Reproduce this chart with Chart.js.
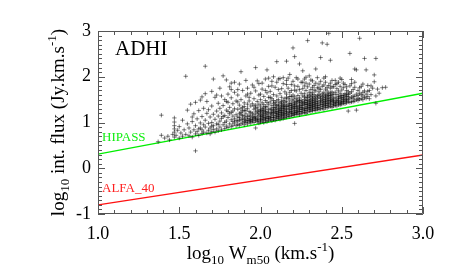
<!DOCTYPE html>
<html>
<head>
<meta charset="utf-8">
<script src="https://cdn.jsdelivr.net/npm/chart.js@4"></script>
<style>
  html, body { margin: 0; padding: 0; background: #fff; }
  #wrap { width: 452px; height: 277px; }
</style>
</head>
<body>
<div id="wrap"><canvas id="adhi-chart" width="452" height="277"></canvas></div>
<script>
// axis ticks
const xTicks = [1.0, 1.5, 2.0, 2.5, 3.0];
const yTicks = [-1, 0, 1, 2, 3];

// detection limit lines (log W50 -> log flux)
const limitW = [1.0, 3.0];
const hipassFlux = [0.31, 1.64];
const alfaFlux = [-0.80, 0.29];

// ADHI sources: [log W50, log int. flux]
const adhiPoints = [
  [1.37,0.58],[1.39,0.72],[1.39,1.16],[1.41,0.66],[1.43,0.70],[1.44,0.62],
  [1.46,0.74],[1.47,0.68],[1.47,0.79],[1.47,0.86],[1.47,0.93],[1.47,1.01],[1.47,1.10],[1.48,0.72],[1.49,0.83],[1.50,0.66],[1.50,0.91],[1.51,0.77],[1.52,1.05],[1.52,0.70],[1.53,0.84],[1.54,2.01],[1.54,0.74],[1.55,0.97],
  [1.55,1.27],[1.56,0.71],[1.56,0.88],[1.57,1.40],[1.57,0.79],[1.58,1.02],[1.58,0.68],[1.59,1.19],[1.59,0.84],[1.60,0.38],[1.60,0.75],[1.60,0.93],[1.60,1.44],[1.61,1.08],[1.61,0.80],[1.62,0.72],[1.62,1.26],[1.63,0.88],[1.63,0.99],[1.63,1.49],[1.64,0.76],[1.64,1.13],[1.64,0.84],[1.65,0.95],[1.65,1.31],[1.65,0.79],[1.62,0.86],[1.58,1.12],
  [1.66,2.23],[1.66,0.90],[1.66,1.05],[1.67,0.77],[1.67,1.20],[1.67,1.46],[1.68,0.83],[1.68,0.98],[1.69,0.75],[1.69,1.12],[1.69,0.88],[1.70,1.36],[1.70,0.80],[1.70,1.00],[1.71,1.95],[1.71,0.93],[1.71,1.18],[1.72,0.79],[1.72,1.07],[1.72,1.55],[1.73,0.86],[1.73,1.25],[1.73,0.97],[1.74,0.82],[1.74,1.14],[1.74,1.42],[1.75,0.90],[1.75,1.03],[1.75,1.31],[1.68,1.28],[1.71,0.85],[1.73,1.60],[1.66,1.63],[1.70,0.92],[1.74,0.96],
  [1.76,0.84],[1.76,1.09],[1.76,1.21],[1.77,2.02],[1.77,0.95],[1.77,1.37],[1.78,0.87],[1.78,1.15],[1.78,1.50],[1.79,1.93],[1.79,0.92],[1.79,1.03],[1.79,1.27],[1.80,0.89],[1.80,1.11],[1.80,1.62],[1.80,1.44],[1.81,0.97],[1.81,1.19],[1.81,1.33],[1.82,0.91],[1.82,1.06],[1.82,1.54],[1.82,1.72],[1.83,0.94],[1.83,1.14],[1.83,1.25],[1.83,1.41],[1.84,0.99],[1.84,1.08],[1.84,1.66],[1.84,1.30],[1.85,0.93],[1.85,1.17],[1.85,1.47],[1.85,1.04],[1.76,1.58],[1.78,1.00],[1.81,1.78],[1.83,1.02],[1.80,1.24],[1.77,1.13],[1.82,1.22],[1.84,1.88],[1.79,1.46],
  [1.86,0.96],[1.86,1.12],[1.86,1.29],[1.86,1.60],[1.87,0.94],[1.87,1.05],[1.87,1.38],[1.87,1.84],[1.88,0.97],[1.88,1.17],[1.88,1.22],[1.88,2.11],[1.88,1.50],[1.89,0.99],[1.89,1.08],[1.89,1.33],[1.89,1.70],[1.90,0.95],[1.90,1.02],[1.90,1.14],[1.90,1.26],[1.90,1.43],[1.91,1.00],[1.91,1.10],[1.91,1.19],[1.91,1.58],[1.91,1.92],[1.92,0.97],[1.92,1.05],[1.92,1.31],[1.92,1.75],[1.93,1.01],[1.93,1.09],[1.93,1.16],[1.93,1.24],[1.93,1.47],[1.94,0.99],[1.94,1.07],[1.94,1.36],[1.94,1.64],[1.95,1.03],[1.95,1.12],[1.95,1.20],[1.95,1.41],[1.95,1.82],[1.86,1.03],[1.87,1.20],[1.88,1.06],[1.89,1.15],[1.90,1.35],[1.91,1.04],[1.92,1.13],[1.93,1.55],[1.94,1.22],[1.95,1.06],[1.86,1.45],[1.89,1.25],[1.92,1.40],[1.94,1.14],[1.90,1.07],[1.88,1.30],[1.91,1.27],[1.93,1.05],[1.87,1.11],[1.94,1.03],
  [1.96,1.00],[1.96,1.08],[1.96,1.17],[1.96,1.29],[1.96,1.52],[1.97,0.88],[1.97,1.04],[1.97,1.13],[1.97,1.23],[1.97,1.38],[1.97,2.20],[1.97,1.69],[1.98,1.02],[1.98,1.10],[1.98,1.19],[1.98,1.33],[1.98,1.46],[1.99,0.99],[1.99,1.06],[1.99,1.15],[1.99,1.27],[1.99,1.60],[1.99,1.85],[2.00,1.01],[2.00,1.09],[2.00,1.18],[2.00,1.24],[2.00,1.36],[2.00,1.50],[2.01,1.03],[2.01,1.12],[2.01,1.21],[2.01,1.31],[2.01,1.43],[2.01,1.73],[2.02,1.00],[2.02,1.07],[2.02,1.16],[2.02,1.26],[2.02,1.39],[2.02,1.57],[2.03,1.04],[2.03,1.11],[2.03,1.19],[2.03,1.29],[2.03,1.48],[2.03,1.95],[2.04,1.02],[2.04,1.09],[2.04,1.14],[2.04,1.23],[2.04,1.34],[2.04,1.65],[2.04,2.15],[2.05,1.05],[2.05,1.13],[2.05,1.22],[2.05,1.40],[2.05,1.79],[1.96,1.11],[1.97,1.31],[1.98,1.06],[1.99,1.21],[2.00,1.05],[2.00,1.13],[2.01,1.07],[2.01,1.26],[2.02,1.12],[2.02,1.21],[2.03,1.08],[2.03,1.35],[2.04,1.18],[2.05,1.09],[2.05,1.28],[1.98,1.25],[1.99,1.40],[2.00,1.28],[2.02,1.32],[2.04,1.44],[1.96,1.36],[2.01,1.16],[2.03,1.24],[1.97,1.08],[2.00,1.62],[2.05,1.55],
  [2.06,1.06],[2.06,1.14],[2.06,1.20],[2.06,1.30],[2.06,1.45],[2.06,1.68],[2.07,1.04],[2.07,1.11],[2.07,1.18],[2.07,1.25],[2.07,1.37],[2.07,1.52],[2.07,1.90],[2.08,1.07],[2.08,1.15],[2.08,1.22],[2.08,1.33],[2.08,1.42],[2.08,1.61],[2.09,1.05],[2.09,1.12],[2.09,1.19],[2.09,1.28],[2.09,1.39],[2.09,1.77],[2.10,1.08],[2.10,1.16],[2.10,1.24],[2.10,1.31],[2.10,1.47],[2.10,2.33],[2.10,1.58],[2.11,1.09],[2.11,1.13],[2.11,1.21],[2.11,1.29],[2.11,1.36],[2.11,1.50],[2.11,1.72],[2.12,1.07],[2.12,1.17],[2.12,1.26],[2.12,1.34],[2.12,1.44],[2.12,1.63],[2.12,1.96],[2.13,1.10],[2.13,1.15],[2.13,1.23],[2.13,1.32],[2.13,1.41],[2.13,1.55],[2.14,1.09],[2.14,1.18],[2.14,1.27],[2.14,1.35],[2.14,1.48],[2.14,1.85],[2.15,1.11],[2.15,1.20],[2.15,1.30],[2.15,1.38],[2.15,1.52],[2.15,1.67],[2.06,1.10],[2.07,1.29],[2.08,1.11],[2.08,1.27],[2.09,1.23],[2.09,1.33],[2.10,1.12],[2.10,1.37],[2.11,1.17],[2.11,1.25],[2.12,1.12],[2.12,1.30],[2.13,1.19],[2.13,1.27],[2.14,1.14],[2.14,1.22],[2.14,1.40],[2.15,1.16],[2.15,1.25],[2.15,1.34],[2.06,1.55],[2.08,1.48],[2.10,1.20],[2.12,1.22],[2.13,1.37],[2.14,1.31],[2.07,1.21],[2.09,1.44],[2.11,1.40],[2.13,1.46],[2.15,1.44],
  [2.16,1.12],[2.16,1.19],[2.16,1.28],[2.16,1.36],[2.16,1.46],[2.16,1.62],[2.16,2.34],[2.16,1.92],[2.17,1.14],[2.17,1.22],[2.17,1.31],[2.17,1.40],[2.17,1.53],[2.17,1.75],[2.18,1.13],[2.18,1.21],[2.18,1.29],[2.18,1.37],[2.18,1.49],[2.18,1.66],[2.18,2.05],[2.19,1.16],[2.19,1.24],[2.19,1.33],[2.19,1.42],[2.19,1.57],[2.19,1.83],[2.20,1.15],[2.20,1.23],[2.20,1.30],[2.20,1.39],[2.20,1.47],[2.20,1.60],[2.20,2.63],[2.21,0.98],[2.21,1.17],[2.21,1.26],[2.21,1.35],[2.21,1.44],[2.21,1.56],[2.21,2.44],[2.21,1.71],[2.22,1.18],[2.22,1.25],[2.22,1.32],[2.22,1.41],[2.22,1.52],[2.22,1.69],[2.22,1.98],[2.23,1.19],[2.23,1.27],[2.23,1.36],[2.23,1.45],[2.23,1.59],[2.23,1.79],[2.24,1.17],[2.24,1.24],[2.24,1.34],[2.24,1.43],[2.24,1.54],[2.24,2.28],[2.25,1.20],[2.25,1.29],[2.25,1.38],[2.25,1.49],[2.25,1.64],[2.25,1.88],[2.16,1.24],[2.17,1.17],[2.17,1.35],[2.18,1.25],[2.18,1.42],[2.19,1.20],[2.19,1.29],[2.20,1.19],[2.20,1.34],[2.21,1.21],[2.21,1.30],[2.21,1.40],[2.22,1.22],[2.22,1.36],[2.23,1.23],[2.23,1.31],[2.23,1.49],[2.24,1.29],[2.24,1.38],[2.25,1.24],[2.25,1.33],[2.25,1.44],[2.16,1.55],[2.18,1.57],[2.20,1.51],[2.22,1.46],[2.24,1.48],[2.19,1.37],
  [2.26,1.21],[2.26,1.28],[2.26,1.37],[2.26,1.46],[2.26,1.58],[2.26,1.74],[2.26,2.13],[2.27,1.22],[2.27,1.31],[2.27,1.40],[2.27,1.50],[2.27,1.63],[2.27,1.95],[2.28,1.20],[2.28,1.26],[2.28,1.34],[2.28,1.43],[2.28,1.54],[2.28,1.70],[2.28,1.86],[2.29,2.79],[2.29,1.23],[2.29,1.30],[2.29,1.39],[2.29,1.48],[2.29,1.60],[2.29,1.78],[2.30,1.25],[2.30,1.33],[2.30,1.41],[2.30,1.51],[2.30,1.66],[2.30,2.02],[2.31,1.24],[2.31,1.29],[2.31,1.37],[2.31,1.45],[2.31,1.56],[2.31,1.72],[2.32,1.26],[2.32,1.35],[2.32,1.44],[2.32,1.53],[2.32,1.65],[2.32,1.91],[2.33,1.27],[2.33,1.32],[2.33,1.40],[2.33,1.49],[2.33,1.61],[2.33,1.81],[2.34,1.26],[2.34,1.36],[2.34,1.46],[2.34,1.57],[2.34,1.69],[2.34,2.17],[2.35,1.29],[2.35,1.38],[2.35,1.47],[2.35,1.59],[2.35,1.76],[2.26,1.32],[2.27,1.26],[2.27,1.44],[2.28,1.30],[2.28,1.48],[2.29,1.34],[2.29,1.43],[2.30,1.29],[2.30,1.37],[2.30,1.46],[2.31,1.33],[2.31,1.41],[2.31,1.50],[2.32,1.30],[2.32,1.39],[2.32,1.48],[2.33,1.36],[2.33,1.44],[2.33,1.54],[2.34,1.31],[2.34,1.41],[2.34,1.51],[2.35,1.33],[2.35,1.42],[2.35,1.53],[2.26,1.41],[2.28,1.39],[2.29,1.55],[2.31,1.62],[2.33,1.71],[2.27,1.56],[2.30,1.58],[2.32,1.58],
  [2.36,1.28],[2.36,1.37],[2.36,1.45],[2.36,1.55],[2.36,1.67],[2.36,1.84],[2.37,1.30],[2.37,1.39],[2.37,1.48],[2.37,1.58],[2.37,1.72],[2.37,2.42],[2.38,1.31],[2.38,1.40],[2.38,1.51],[2.38,1.63],[2.38,1.79],[2.38,2.74],[2.39,1.29],[2.39,1.36],[2.39,1.44],[2.39,1.54],[2.39,1.66],[2.39,1.97],[2.40,1.33],[2.40,1.42],[2.40,1.50],[2.40,1.60],[2.40,1.73],[2.40,1.88],[2.41,1.32],[2.41,1.38],[2.41,1.47],[2.41,1.57],[2.41,1.69],[2.41,2.71],[2.42,1.34],[2.42,1.43],[2.42,1.53],[2.42,1.64],[2.42,1.81],[2.42,2.95],[2.43,1.35],[2.43,1.41],[2.43,1.49],[2.43,1.59],[2.43,1.75],[2.43,2.36],[2.44,1.33],[2.44,1.46],[2.44,1.56],[2.44,1.67],[2.44,1.92],[2.45,1.36],[2.45,1.44],[2.45,1.52],[2.45,1.62],[2.45,1.78],[2.36,1.33],[2.37,1.43],[2.38,1.35],[2.38,1.46],[2.39,1.40],[2.39,1.49],[2.40,1.37],[2.40,1.46],[2.41,1.42],[2.41,1.52],[2.42,1.38],[2.42,1.48],[2.43,1.45],[2.43,1.54],[2.44,1.39],[2.44,1.50],[2.45,1.40],[2.45,1.48],[2.36,1.61],[2.38,1.57],[2.40,1.55],[2.42,1.59],[2.44,1.61],[2.37,1.52],[2.41,1.62],[2.39,1.60],[2.43,1.65],
  [2.46,1.37],[2.46,1.45],[2.46,1.55],[2.46,1.66],[2.46,1.83],[2.47,1.36],[2.47,1.43],[2.47,1.51],[2.47,1.61],[2.47,1.74],[2.48,1.39],[2.48,1.48],[2.48,1.57],[2.48,1.69],[2.48,1.88],[2.49,1.38],[2.49,1.46],[2.49,1.53],[2.49,1.64],[2.49,1.79],[2.50,1.40],[2.50,1.49],[2.50,1.59],[2.50,1.71],[2.50,1.94],[2.51,1.42],[2.51,1.50],[2.51,1.60],[2.51,1.76],[2.52,1.41],[2.52,1.52],[2.52,1.63],[2.52,1.83],[2.53,1.43],[2.53,1.51],[2.53,1.62],[2.53,1.70],[2.54,1.25],[2.54,1.45],[2.54,1.56],[2.54,1.67],[2.55,2.51],[2.55,1.44],[2.55,1.53],[2.55,1.64],[2.55,1.80],[2.46,1.41],[2.47,1.47],[2.48,1.43],[2.48,1.53],[2.49,1.42],[2.49,1.58],[2.50,1.44],[2.50,1.54],[2.51,1.46],[2.51,1.55],[2.52,1.47],[2.52,1.58],[2.53,1.47],[2.53,1.57],[2.54,1.50],[2.54,1.61],
  [2.56,1.45],[2.56,1.55],[2.56,1.67],[2.56,1.85],[2.57,1.46],[2.57,1.58],[2.57,1.72],[2.58,1.47],[2.58,1.57],[2.58,2.17],[2.58,1.77],[2.59,1.27],[2.59,1.50],[2.59,1.62],[2.59,2.15],[2.60,1.48],[2.60,1.59],[2.60,1.70],[2.61,2.84],[2.61,1.51],[2.61,1.64],[2.62,1.52],[2.62,1.61],[2.62,1.79],[2.63,1.50],[2.63,1.66],[2.64,2.40],[2.64,1.55],[2.64,1.69],[2.65,2.15],[2.65,1.53],[2.65,1.62],[2.57,1.52],[2.60,1.53],[2.63,1.58],
  [2.66,1.57],[2.67,1.70],[2.67,1.52],[2.68,1.61],[2.69,1.75],[2.70,2.04],[2.70,1.89],[2.71,2.40],[2.71,1.42],[2.71,1.58],[2.72,1.73],[2.73,1.64],[2.75,1.76],[2.77,1.77],[2.66,1.81],
  [1.92,1.62],[1.96,1.77],[1.98,1.91],[2.01,1.86],[2.03,1.70],[2.05,1.97],[2.07,1.80],[2.08,2.00],[2.10,1.88],[2.11,1.95],[2.13,1.74],[2.14,1.98],[2.16,1.83],[2.17,1.97],[2.19,1.70],[2.20,1.90],[2.21,1.80],[2.23,1.95],[2.24,1.72],[2.26,1.88],[2.27,1.80],[2.28,1.99],[2.30,1.84],[2.31,1.93],[2.32,1.77],[2.34,1.86],[2.35,1.98],[2.36,1.75],[2.37,1.90],[2.39,1.82],[2.40,2.00],[2.41,1.77],[2.43,1.86],[2.44,1.78],[2.46,1.92],[2.47,1.85],[2.49,1.97],[2.51,1.86],[2.53,1.78],[2.56,1.94],[2.58,1.88],[2.61,1.76],[2.63,1.84],[2.66,1.68],[2.68,1.80],[1.86,1.72],[1.82,1.86],[1.75,1.75],[1.70,1.68],[1.64,1.56]
];

const serif = "'Liberation Serif', 'Times New Roman', serif";

// text with sub / superscripts, (x, y) = centre of the baseline
function drawRich(ctx, parts, x, y, angle) {
  ctx.save();
  ctx.translate(x, y);
  ctx.rotate(angle);
  ctx.textBaseline = "alphabetic";
  ctx.textAlign = "left";
  let total = 0;
  parts.forEach((p) => {
    ctx.font = p[1] + "px " + serif;
    p.w = ctx.measureText(p[0]).width;
    total += p.w;
  });
  let cx = -total / 2;
  parts.forEach((p) => {
    ctx.font = p[1] + "px " + serif;
    ctx.fillText(p[0], cx, p[2]);
    cx += p.w;
  });
  ctx.restore();
}

// IDL style frame: box with inward ticks on all four sides, plus the labels
const idlFrame = {
  id: "idlFrame",
  afterDraw(chart) {
    const { ctx, chartArea: a, scales } = chart;
    const x = scales.x;
    const y = scales.y;
    ctx.save();
    ctx.strokeStyle = "#555";
    ctx.lineWidth = 1;
    ctx.beginPath();
    ctx.rect(a.left + 0.5, a.top + 0.5, a.right - a.left - 1, a.bottom - a.top - 1);

    const xStep = (xTicks[1] - xTicks[0]) / 5;
    for (let i = 0; i <= (xTicks[xTicks.length - 1] - xTicks[0]) / xStep + 0.01; i++) {
      const v = xTicks[0] + i * xStep;
      const px = Math.round(x.getPixelForValue(v)) + 0.5;
      const len = i % 5 === 0 ? 7 : 4;
      ctx.moveTo(px, a.bottom);
      ctx.lineTo(px, a.bottom - len);
      ctx.moveTo(px, a.top);
      ctx.lineTo(px, a.top + len);
    }
    const yStep = (yTicks[1] - yTicks[0]) / 10;
    for (let i = 0; i <= (yTicks[yTicks.length - 1] - yTicks[0]) / yStep + 0.01; i++) {
      const v = yTicks[0] + i * yStep;
      const py = Math.round(y.getPixelForValue(v)) + 0.5;
      const len = i % 10 === 0 ? 7 : 4;
      ctx.moveTo(a.left, py);
      ctx.lineTo(a.left + len, py);
      ctx.moveTo(a.right, py);
      ctx.lineTo(a.right - len, py);
    }
    ctx.stroke();

    ctx.fillStyle = "#000";
    ctx.font = "21px " + serif;
    ctx.fillText("ADHI", a.left + 17, a.top + 24);

    ctx.font = "13px " + serif;
    ctx.fillStyle = "#11ee11";
    ctx.fillText("HIPASS", a.left + 4, 141);
    ctx.fillStyle = "#ff2020";
    ctx.fillText("ALFA_40", a.left + 4, 192);

    ctx.fillStyle = "#000";
    drawRich(ctx, [["log", 19, 0], ["10", 13, 5], [" W", 19, 0], ["m50", 13, 5],
      [" (km.s", 19, 0], ["-1", 13, -8], [")", 19, 0]], (a.left + a.right) / 2, 259, 0);
    drawRich(ctx, [["log", 19, 0], ["10", 13, 5], [" int. flux (Jy.km.s", 19, 0],
      ["-1", 13, -8], [")", 19, 0]], 64, (a.top + a.bottom) / 2, -Math.PI / 2);
    ctx.restore();
  },
};

const lineOf = (fluxes) => limitW.map((w, i) => ({ x: w, y: fluxes[i] }));

new Chart(document.getElementById("adhi-chart"), {
  type: "scatter",
  data: {
    datasets: [
      {
        label: "ADHI",
        data: adhiPoints.map((p) => ({ x: p[0], y: p[1] })),
        pointStyle: "cross",
        pointRadius: 2.2,
        borderColor: "rgba(0,0,0,0.5)",
        borderWidth: 1,
      },
      {
        type: "line",
        label: "HIPASS",
        data: lineOf(hipassFlux),
        borderColor: "#00ee00",
        borderWidth: 1.3,
        pointRadius: 0,
      },
      {
        type: "line",
        label: "ALFA_40",
        data: lineOf(alfaFlux),
        borderColor: "#ff1010",
        borderWidth: 1.3,
        pointRadius: 0,
      },
    ],
  },
  options: {
    responsive: false,
    animation: false,
    events: [],
    layout: { autoPadding: false, padding: { left: 0, right: 29, top: 31, bottom: 0 } },
    plugins: { legend: { display: false }, tooltip: { enabled: false } },
    scales: {
      x: {
        type: "linear",
        min: xTicks[0],
        max: xTicks[xTicks.length - 1],
        afterBuildTicks: (s) => { s.ticks = xTicks.map((v) => ({ value: v })); },
        afterFit: (s) => { s.height = 63; },
        grid: { display: false, drawTicks: false },
        border: { display: false },
        ticks: {
          padding: 9,
          maxRotation: 0,
          color: "#000",
          font: { family: serif, size: 18 },
          callback: (v) => Number(v).toFixed(1),
        },
      },
      y: {
        type: "linear",
        min: yTicks[0],
        max: yTicks[yTicks.length - 1],
        afterBuildTicks: (s) => { s.ticks = yTicks.map((v) => ({ value: v })); },
        afterFit: (s) => { s.width = 98; },
        grid: { display: false, drawTicks: false },
        border: { display: false },
        ticks: {
          padding: 7,
          color: "#000",
          font: { family: serif, size: 18 },
          callback: (v) => String(v),
        },
      },
    },
  },
  plugins: [idlFrame],
});
</script>
</body>
</html>
